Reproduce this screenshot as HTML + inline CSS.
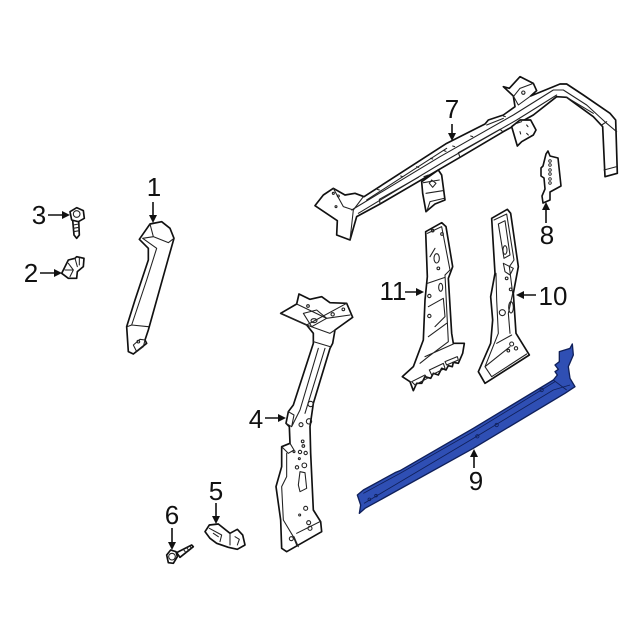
<!DOCTYPE html>
<html><head><meta charset="utf-8"><style>
html,body{margin:0;padding:0;background:#fff}
svg{display:block;filter:blur(.35px)}
text{font-family:"Liberation Sans",sans-serif;font-size:26px;fill:#111;text-anchor:middle}
.p{fill:#fff;stroke:#111;stroke-width:5;stroke-linejoin:round;stroke-linecap:round}
.l{fill:none;stroke:#222;stroke-width:3.2;stroke-linejoin:round;stroke-linecap:round}
.b{fill:#2f4fb4;stroke:#10205a;stroke-width:4;stroke-linejoin:round}
.bl{fill:none;stroke:#10205a;stroke-width:2.5}
.a{stroke:#111;stroke-width:1.6;fill:none}
.h{fill:#111}
</style></head><body>
<svg width="640" height="640" viewBox="0 0 640 640" xmlns="http://www.w3.org/2000/svg">
<rect width="640" height="640" fill="#fff"/>

<!-- 7 roof rail -->
<g transform="translate(300,60) scale(.33333)">
<path class="p" d="M45,437 L70,405 L100,385 L135,405 L165,400 L192,410 L440,250 L555,192 L565,180 L610,165 L645,140 L640,108 L610,80 L628,85 L660,50 L700,70 L710,92 L692,108 L780,72 L800,72 L850,105 L930,160 L947,180 L952,340 L915,350 L908,200 L880,170 L800,112 L770,110 L700,165 L610,215 L480,292 L240,432 L170,470 L150,540 L110,525 L112,482 Z"/>
<path class="l" d="M155,450 L420,290 L640,165 L760,90 L790,90 L860,135 L920,190 L950,215 M175,460 L440,300 L650,180 L770,105 M905,195 L920,185 M912,330 L950,320 M800,112 L880,160"/>
<path class="l" d="M190,410 L160,450 L150,540 M100,385 L130,440 L160,450 M640,108 L655,135 L692,108 M660,85 L700,70 M640,110 L660,85 M200,420 L440,265 M560,195 L610,175"/>
<path class="l" d="M240,430 L238,418 L355,352 M480,292 L475,278 L600,208 L607,214"/>
<path class="p" d="M365,365 L415,330 L425,345 L435,420 L405,432 L378,455 L368,400 Z"/>
<path class="l" d="M370,368 L418,360 M378,400 L428,392 M395,360 L408,370 L398,382 L388,370 Z M372,350 L385,345 M380,455 L390,425 L432,415"/>
<path class="p" d="M635,200 L660,180 L692,180 L708,210 L700,225 L665,245 L652,258 Z"/>
<path class="l" d="M650,190 L665,185 M660,215 L662,222 M680,195 L684,200 M680,220 L685,225"/>
<path class="l" d="M232,388 L238,390 M302,348 L308,350 M350,320 L356,322 M392,295 L398,297 M432,272 L438,274 M458,258 L464,260 M512,228 L518,230 M610,168 L616,170"/>
<circle class="l" cx="115" cy="408" r="3"/><circle class="l" cx="100" cy="400" r="3"/><circle class="l" cx="108" cy="440" r="3"/><circle class="l" cx="670" cy="98" r="5"/>
</g>

<!-- 8 bracket -->
<g transform="translate(480,70) scale(1)">
<path class="p" style="stroke-width:1.6" d="M66,84 L68,81 L70,86 L78,88 L81,116 L70,122 L70,130 L63,133 L62,126 L65,119 L64,108 L61,106 L61,98 L63,96 Z"/>
<circle class="l" style="stroke-width:.9" cx="70" cy="91" r="1.3"/><circle class="l" style="stroke-width:.9" cx="70" cy="95" r="1.3"/><circle class="l" style="stroke-width:.9" cx="70" cy="100" r="1.3"/><circle class="l" style="stroke-width:.9" cx="70" cy="104" r="1.3"/><circle class="l" style="stroke-width:.9" cx="70" cy="109" r="1.3"/><circle class="l" style="stroke-width:.9" cx="70" cy="113" r="1.3"/>
</g>

<!-- 11 -->
<g transform="translate(370,200) scale(.33333)">
<path class="p" d="M167,95 L215,68 L228,80 L248,200 L235,235 L245,400 L250,430 L283,430 L278,460 L265,490 L250,487 L247,500 L235,497 L228,510 L215,505 L205,525 L190,520 L182,535 L165,530 L155,550 L140,550 L130,572 L120,545 L97,530 L130,500 L160,420 L165,300 L172,230 Z"/>
<path class="l" d="M172,100 L215,80 L240,210 L225,225 L235,425 L175,470 L150,490 M180,170 L195,145 M172,250 L225,232 M175,320 L220,295 L225,350 L195,380 M175,410 L230,370 M165,470 L250,432"/>
<path class="l" d="M125,545 L165,525 L172,535 L135,555 Z M178,510 L220,490 L225,505 L185,525 Z M225,485 L262,470 L265,480 L230,495 Z"/>
<ellipse class="l" cx="200" cy="175" rx="8" ry="14"/><ellipse class="l" cx="212" cy="262" rx="6" ry="12"/><circle class="l" cx="188" cy="92" r="4"/><circle class="l" cx="216" cy="102" r="4"/><circle class="l" cx="178" cy="288" r="5"/><circle class="l" cx="178" cy="348" r="5"/><circle class="l" cx="205" cy="205" r="4"/>
<!-- 10 -->
<path class="p" d="M365,55 L412,28 L422,40 L445,200 L430,280 L438,400 L478,465 L345,550 L325,515 L362,430 L368,360 L362,290 L375,220 Z"/>
<path class="l" d="M372,60 L410,42 L432,180 L418,200 L428,280 L415,340 L420,400 M385,72 L405,62 L420,165 L402,175 Z M378,220 L380,300 L385,400 L345,500 L365,530 L470,462 M400,190 L430,205 L420,225 L405,215 Z M345,500 L420,440 M380,430 L425,405"/>
<ellipse class="l" cx="423" cy="322" rx="7" ry="17"/><circle class="l" cx="397" cy="338" r="9"/><circle class="l" cx="425" cy="432" r="6"/><circle class="l" cx="438" cy="445" r="5"/><circle class="l" cx="415" cy="452" r="4"/><circle class="l" cx="410" cy="235" r="4"/><circle class="l" cx="422" cy="268" r="4"/><ellipse class="l" cx="405" cy="150" rx="6" ry="13"/>
</g>

<!-- 9 blue sill -->
<g transform="translate(340,330) scale(.33333)">
<path class="b" d="M52,495 L70,480 L165,428 L180,422 L400,295 L640,150 L652,135 L645,125 L655,118 L645,105 L658,95 L658,65 L690,55 L697,42 L700,75 L685,110 L690,145 L705,170 L675,190 L400,355 L75,535 L58,550 L62,525 Z"/>
<path class="bl" d="M72,520 L400,325 L640,180 L690,165 M70,490 L180,430 L400,305 L645,155 M640,150 L680,180"/>
<circle class="bl" cx="88" cy="508" r="4"/><circle class="bl" cx="108" cy="497" r="4"/><circle class="bl" cx="412" cy="319" r="5"/><circle class="bl" cx="470" cy="285" r="5"/><circle class="bl" cx="605" cy="180" r="5"/>
</g>

<!-- 4 pillar -->
<g transform="translate(150,280) scale(.33333)">
<path class="p" d="M392,100 L440,72 L447,42 L480,58 L515,50 L540,68 L590,70 L608,112 L555,150 L548,190 L540,205 L490,370 L480,440 L482,520 L490,690 L512,725 L515,755 L410,815 L395,805 L392,720 L378,620 L395,560 L395,500 L420,490 L418,440 L408,430 L415,395 L430,375 L490,190 L490,160 L470,135 Z"/>
<path class="l" d="M392,100 L470,135 L590,70 M440,72 L530,115 L600,105 M470,135 L540,160 L555,150 M490,185 L540,200 M505,205 L450,390 L425,440 M525,205 L465,400 M415,395 L432,405 L425,440 L408,430"/>
<path class="l" d="M395,500 L415,520 L432,510 L420,490 M410,520 L410,590 L395,620 L400,720 L430,770 L440,795 M440,760 L510,725 M432,770 L445,800"/>
<path class="l" d="M450,575 L465,578 L470,625 L450,635 L445,615 Z"/>
<path class="l" d="M460,100 L500,90 L530,115 L485,140 Z"/>
<ellipse class="l" cx="492" cy="122" rx="9" ry="6"/>
<circle class="l" cx="482" cy="372" r="8"/><circle class="l" cx="477" cy="424" r="8"/><circle class="l" cx="453" cy="434" r="6"/><circle class="l" cx="458" cy="484" r="4"/><circle class="l" cx="460" cy="498" r="4"/><circle class="l" cx="432" cy="515" r="3"/><circle class="l" cx="450" cy="516" r="5"/><circle class="l" cx="467" cy="519" r="5"/><circle class="l" cx="448" cy="536" r="3"/><circle class="l" cx="463" cy="556" r="7"/><circle class="l" cx="441" cy="562" r="5"/><circle class="l" cx="467" cy="685" r="6"/><circle class="l" cx="449" cy="705" r="3"/><circle class="l" cx="476" cy="728" r="6"/><circle class="l" cx="480" cy="745" r="6"/><circle class="l" cx="424" cy="776" r="6"/><circle class="l" cx="548" cy="103" r="5"/><circle class="l" cx="580" cy="88" r="4"/><circle class="l" cx="474" cy="78" r="4"/>
<!-- 5 clip -->
<path class="p" d="M165,755 L178,735 L205,732 L240,760 L262,748 L278,765 L285,795 L262,808 L235,802 L200,790 L180,775 Z"/>
<path class="l" d="M178,745 L215,765 L210,785 M240,760 L240,795 M255,770 L268,778 L262,795 M190,760 L205,770"/>
<!-- 6 bolt -->
<path class="p" d="M80,818 L125,795 L130,800 L90,832 Z"/>
<path class="l" d="M100,808 L108,818 M110,803 L117,812 M120,798 L124,806"/>
<path class="p" d="M50,825 L62,810 L78,815 L82,830 L70,850 L55,848 Z"/>
<circle class="l" cx="66" cy="830" r="10"/>
</g>

<!-- 1 trim, 2, 3 -->
<g transform="translate(20,170) scale(.33333)">
<path class="p" d="M358,208 L390,162 L425,155 L450,175 L462,205 L445,265 L385,480 L375,510 L380,520 L340,552 L325,545 L320,470 L345,390 L385,270 L385,235 Z"/>
<path class="l" d="M368,205 L400,200 L445,218 L462,205 M368,205 L410,235 L380,330 L335,465 L322,470 M390,162 L400,200 M335,465 L385,470"/>
<path class="l" d="M340,525 L360,508 L375,510 L370,530 L350,545 Z"/>
<circle class="l" cx="355" cy="515" r="4"/>
<!-- 3 bolt -->
<path class="p" d="M158,150 L162,195 L170,205 L178,195 L176,150 Z"/>
<path class="l" d="M160,165 L176,162 M160,175 L177,172 M161,185 L177,182"/>
<path class="p" d="M150,125 L170,113 L190,122 L193,145 L175,155 L155,150 Z"/>
<circle class="l" cx="170" cy="132" r="10"/>
<!-- 2 clip -->
<path class="p" d="M125,310 L145,270 L165,265 L170,260 L192,265 L190,290 L172,305 L170,325 L145,325 Z"/>
<path class="l" d="M145,280 L160,300 L150,320 M165,265 L172,290 M135,300 L160,300 M178,265 L178,285"/>
</g>

<!-- Arrows -->
<path class="a" d="M153,202 V216 M48,215 H63 M40,273 H55 M265,418 H279 M216,503 V517 M172,528 V543 M452,124 V134 M546,223 V209 M474,468 V456 M536,295 H523 M405,292 H417"/>
<path class="h" d="M149,215 H157 L153,223 Z M62,211 V219 L70,215 Z M54,269 V277 L62,273 Z M278,414 V422 L286,418 Z M212,516 H220 L216,524 Z M168,542 H176 L172,550 Z M448,133 H456 L452,141 Z M542,210 H550 L546,202 Z M470,457 H478 L474,449 Z M524,291 V299 L516,295 Z M416,288 V296 L424,292 Z"/>

<!-- Labels -->
<text x="154" y="196">1</text>
<text x="31" y="282">2</text>
<text x="39" y="224">3</text>
<text x="256" y="428">4</text>
<text x="216" y="500">5</text>
<text x="172" y="524">6</text>
<text x="452" y="118">7</text>
<text x="547" y="244">8</text>
<text x="476" y="490">9</text>
<text x="553" y="305">10</text>
<text x="393" y="300">11</text>
</svg>
</body></html>
